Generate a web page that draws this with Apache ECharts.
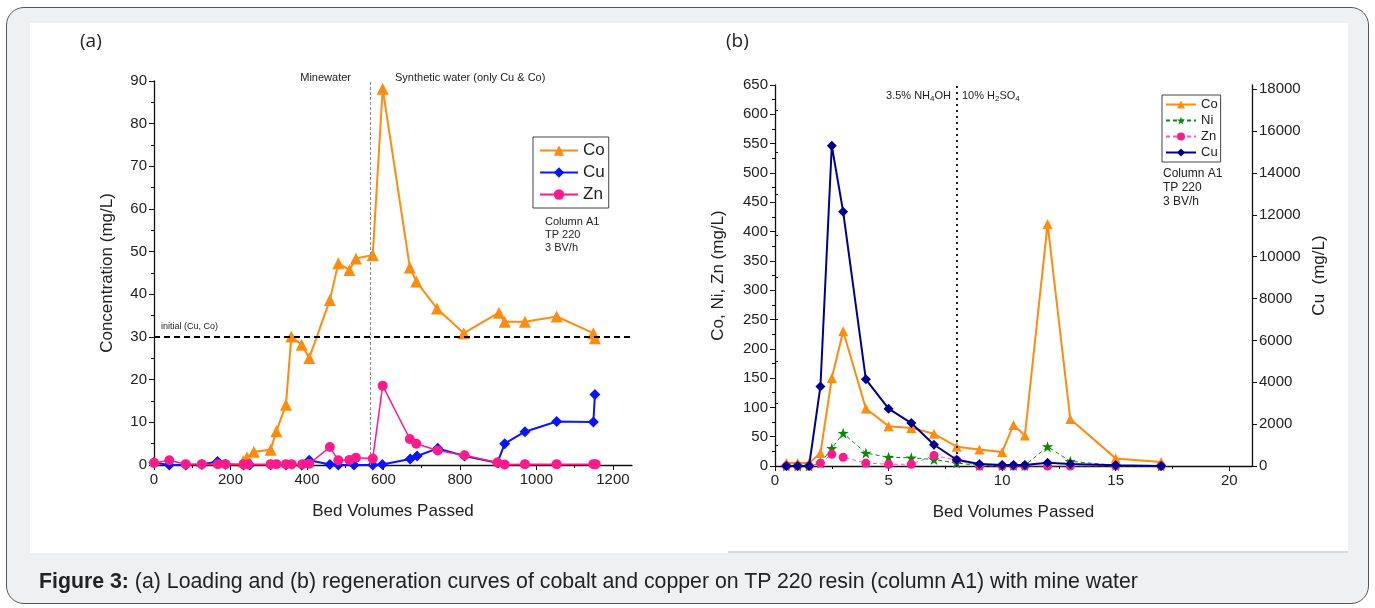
<!DOCTYPE html>
<html>
<head>
<meta charset="utf-8">
<script src="https://cdn.jsdelivr.net/npm/echarts@6/dist/echarts.min.js"></script>
<style>
html, body { margin: 0; padding: 0; width: 1375px; height: 608px; overflow: hidden; background: #fff; }
.frame {
  position: absolute; left: 6px; top: 7px; width: 1363px; height: 597px;
  border: 1.5px solid #555; border-radius: 18px; background: #eff0f1; box-sizing: border-box;
}
.sheet { position: absolute; left: 30px; top: 23px; width: 1318px; height: 530px; background: #fff; }
.rule { position: absolute; left: 728px; top: 551px; width: 620px; height: 2px; background: #d9dadb; }
#chart { position: absolute; left: 0; top: 0; width: 1375px; height: 608px; }
.caption {
  position: absolute; left: 39px; top: 569px; white-space: nowrap;
  font: 21.3px "Liberation Sans", Arial, sans-serif; color: #222;
}
</style>
</head>
<body>
<div class="frame"></div>
<div class="sheet"></div>
<div class="rule"></div>
<div id="chart"></div>
<div class="caption"><b>Figure 3:</b> (a) Loading and (b) regeneration curves of cobalt and copper on TP 220 resin (column A1) with mine water</div>
<script>
// (a) loading curve, x = bed volumes passed
const aCoX = [233, 243, 261, 305, 320, 345, 359, 386, 406, 460, 482, 511, 528, 572, 598, 669, 686, 740, 810, 902, 917, 970, 1053, 1149, 1153]
const aCoY = [0.9, 1.8, 3.1, 3.6, 7.9, 14.1, 30.1, 28.2, 25.1, 38.7, 47.3, 45.7, 48.4, 49.2, 88.2, 46.3, 43.0, 36.7, 30.9, 35.7, 33.6, 33.6, 34.8, 30.9, 29.7]

const aCuX = [0, 40, 83, 125, 166, 187, 234, 250, 305, 345, 386, 406, 460, 482, 523, 572, 597, 670, 688, 742, 812, 898, 917, 970, 1053, 1149, 1153]
const aCuY = [0.6, 0, 0, 0.1, 0.8, 0.2, 0, 0, 0, 0, 0, 1.1, 0.1, 0, 0, 0, 0.1, 1.4, 2.1, 3.9, 2.1, 0.5, 5.0, 7.8, 10.2, 10.1, 16.5]

const aZnX = [0, 40, 83, 125, 167, 187, 234, 246, 305, 320, 345, 360, 388, 406, 460, 482, 511, 528, 572, 598, 669, 686, 742, 812, 898, 917, 970, 1053, 1149, 1155]
const aZnY = [0.5, 1.1, 0.2, 0.2, 0.2, 0.2, 0.2, 0.2, 0.2, 0.2, 0.2, 0.2, 0.2, 0.3, 4.2, 1.1, 1.2, 1.7, 1.5, 18.6, 6.1, 5.0, 3.4, 2.3, 0.6, 0.1, 0.2, 0.2, 0.2, 0.2]

const aInitial = 30
const aSwitchBV = 565
const aXTicks = [0, 200, 400, 600, 800, 1000, 1200]
const aXMinor = [100, 300, 500, 700, 900, 1100]

// (b) regeneration curve
const bX = [0.5, 1, 1.5, 2, 2.5, 3, 4, 5, 6, 7, 8, 9, 10, 10.5, 11, 12, 13, 15, 17]
const bCo = [5, 5, 5, 22, 150, 230, 98, 68, 65, 55, 33, 28, 24, 70, 52, 413, 80, 13, 7]
const bNi = [0, 0, 0, 5, 30, 56, 22, 15, 14, 11, 5, 1, 1, 1, 1, 33, 8, 1, 0]
const bZn = [0, 0, 0, 5, 20, 15, 5, 3, 3, 18, 10, 0, 0, 0, 0, 0, 0, 0, 0]
const bCu = [0, 0, 0, 3800, 15300, 12150, 4140, 2740, 2050, 1015, 300, 100, 50, 50, 50, 150, 100, 30, 0]

const bSwitchBV = 8
const bXTicks = [0, 5, 10, 15, 20]
const bXMinor = [2.5, 7.5, 12.5, 17.5]
const bCuTicks = [0, 2000, 4000, 6000, 8000, 10000, 12000, 14000, 16000, 18000]
const bCuMinor = [1000, 3000, 5000, 7000, 9000, 11000, 13000, 15000, 17000]

const font = '"Liberation Sans", Arial, sans-serif'
const ink = '#222'

function pairs(xs, ys) {
  return xs.map((x, i) => [x, ys[i]])
}

const plain = (v) => String(v)
const axisLine = { show: true, lineStyle: { color: '#111', width: 1.3 } }
const tickLabel = { color: ink, fontSize: 15, fontFamily: font, formatter: plain }
const nameStyle = { color: ink, fontSize: 17, fontFamily: font }

function minorAxis(gridIndex, min, max, values, position) {
  return {
    type: 'value', gridIndex, min, max, position,
    axisLine: { show: false },
    axisLabel: { show: false },
    splitLine: { show: false },
    axisTick: { show: true, customValues: values, length: 3, lineStyle: { color: '#111' } },
  }
}

const chart = echarts.init(document.getElementById('chart'))

chart.setOption({
  animation: false,
  backgroundColor: 'transparent',
  textStyle: { fontFamily: font },
  grid: [
    { left: 154, top: 81, width: 478, height: 384 },
    { left: 775, top: 85, width: 477, height: 381 },
    { left: 154, top: 81, width: 478, height: 384 },
    { left: 775, top: 85, width: 477, height: 381 },
  ],
  xAxis: [
    {
      type: 'value', gridIndex: 0, min: 0, max: 1250,
      axisLine,
      axisTick: { customValues: aXTicks, length: 5, lineStyle: { color: '#111' } },
      axisLabel: { ...tickLabel, customValues: aXTicks, margin: 7 },
      splitLine: { show: false },
      name: 'Bed Volumes Passed', nameLocation: 'middle', nameGap: 38, nameTextStyle: nameStyle,
    },
    {
      type: 'value', gridIndex: 1, min: 0, max: 21,
      axisLine,
      axisTick: { customValues: bXTicks, length: 5, lineStyle: { color: '#111' } },
      axisLabel: { ...tickLabel, customValues: bXTicks, margin: 7 },
      splitLine: { show: false },
      name: 'Bed Volumes Passed', nameLocation: 'middle', nameGap: 38, nameTextStyle: nameStyle,
    },
    minorAxis(2, 0, 1250, aXMinor, 'bottom'),
    minorAxis(3, 0, 21, bXMinor, 'bottom'),
  ],
  yAxis: [
    {
      type: 'value', gridIndex: 0, min: 0, max: 90, interval: 10,
      axisLine,
      axisTick: { show: true, length: 5, lineStyle: { color: '#111' } },
      minorTick: { show: true, splitNumber: 2, length: 3, lineStyle: { color: '#111' } },
      axisLabel: { ...tickLabel, margin: 7 },
      splitLine: { show: false },
      name: 'Concentration (mg/L)', nameLocation: 'middle', nameGap: 38, nameRotate: 90, nameTextStyle: nameStyle,
    },
    {
      type: 'value', gridIndex: 1, min: 0, max: 650, interval: 50,
      axisLine,
      axisTick: { show: true, length: 5, lineStyle: { color: '#111' } },
      minorTick: { show: true, splitNumber: 2, length: 3, lineStyle: { color: '#111' } },
      axisLabel: { ...tickLabel, margin: 7 },
      splitLine: { show: false },
      name: 'Co, Ni, Zn (mg/L)', nameLocation: 'middle', nameGap: 48, nameRotate: 90, nameTextStyle: nameStyle,
    },
    {
      type: 'value', gridIndex: 1, position: 'right', min: 0, max: 18200,
      axisLine,
      axisTick: { show: true, customValues: bCuTicks, length: 5, lineStyle: { color: '#111' } },
      axisLabel: { ...tickLabel, customValues: bCuTicks, margin: 7 },
      splitLine: { show: false },
      name: 'Cu  (mg/L)', nameLocation: 'middle', nameGap: 59, nameRotate: 90, nameTextStyle: nameStyle,
    },
    { type: 'value', gridIndex: 2, min: 0, max: 1, show: false },
    minorAxis(3, 0, 18200, bCuMinor, 'right'),
  ],
  legend: [
    {
      orient: 'vertical', left: 533, top: 137,
      data: ['Co', 'Cu', 'Zn'],
      itemWidth: 38, itemHeight: 13, itemGap: 5,
      padding: [5, 4, 5, 6],
      borderColor: '#444', borderWidth: 1,
      textStyle: { color: ink, fontSize: 17, fontFamily: font },
    },
    {
      orient: 'vertical', left: 1162, top: 95,
      data: ['Co (b)', 'Ni (b)', 'Zn (b)', 'Cu (b)'],
      formatter: (name) => name.replace(' (b)', ''),
      itemWidth: 30, itemHeight: 10, itemGap: 3,
      padding: [3, 3, 3, 3],
      borderColor: '#444', borderWidth: 1,
      textStyle: { color: ink, fontSize: 13, fontFamily: font },
    },
  ],
  series: [
    {
      name: 'Co', type: 'line', xAxisIndex: 0, yAxisIndex: 0,
      data: pairs(aCoX, aCoY),
      symbol: 'triangle', symbolSize: 12, z: 3,
      itemStyle: { color: '#ff8c0f' }, lineStyle: { color: '#ff8c0f', width: 2 },
      markLine: {
        silent: true, symbol: 'none', label: { show: false },
        data: [
          { xAxis: aSwitchBV, lineStyle: { color: '#888', type: [3, 2], width: 1 } },
          { yAxis: aInitial, lineStyle: { color: '#000', type: [6, 4], width: 2 } },
        ],
      },
    },
    {
      name: 'Cu', type: 'line', xAxisIndex: 0, yAxisIndex: 0,
      data: pairs(aCuX, aCuY),
      symbol: 'diamond', symbolSize: 11, z: 4,
      itemStyle: { color: '#0a14ff' }, lineStyle: { color: '#0a14ff', width: 2 },
    },
    {
      name: 'Zn', type: 'line', xAxisIndex: 0, yAxisIndex: 0,
      data: pairs(aZnX, aZnY),
      symbol: 'circle', symbolSize: 10, z: 5,
      itemStyle: { color: '#ff1a8c' }, lineStyle: { color: '#ff1a8c', width: 1.5 },
    },
    {
      name: 'Co (b)', type: 'line', xAxisIndex: 1, yAxisIndex: 1,
      data: pairs(bX, bCo),
      symbol: 'triangle', symbolSize: 10, z: 3,
      itemStyle: { color: '#ff8c0f' }, lineStyle: { color: '#ff8c0f', width: 2 },
      markLine: {
        silent: true, symbol: 'none', label: { show: false },
        data: [{ xAxis: bSwitchBV, lineStyle: { color: '#222', type: [2, 4], width: 2 } }],
      },
    },
    {
      name: 'Ni (b)', type: 'line', xAxisIndex: 1, yAxisIndex: 1,
      data: pairs(bX, bNi),
      symbol: 'path://M0,-10L2.35,-3.24L9.51,-3.09L3.8,1.24L5.88,8.09L0,4L-5.88,8.09L-3.8,1.24L-9.51,-3.09L-2.35,-3.24Z',
      symbolSize: 11, z: 4,
      itemStyle: { color: '#0a8a0a' }, lineStyle: { color: '#0a8a0a', width: 1, type: [4, 3] },
    },
    {
      name: 'Zn (b)', type: 'line', xAxisIndex: 1, yAxisIndex: 1,
      data: pairs(bX, bZn),
      symbol: 'circle', symbolSize: 9, z: 5,
      itemStyle: { color: '#ff1a8c' }, lineStyle: { color: '#ff5aa8', width: 1, type: [4, 3] },
    },
    {
      name: 'Cu (b)', type: 'line', xAxisIndex: 1, yAxisIndex: 2,
      data: pairs(bX, bCu),
      symbol: 'diamond', symbolSize: 10, z: 6,
      itemStyle: { color: '#00008f' }, lineStyle: { color: '#00008f', width: 2 },
    },
  ],
  graphic: [
    { type: 'text', x: 80, y: 42, style: { text: '(a)', fill: ink, font: '19px "Open Sans", sans-serif', verticalAlign: 'middle' } },
    { type: 'text', x: 726, y: 42, style: { text: '(b)', fill: ink, font: '19px "Open Sans", sans-serif', verticalAlign: 'middle' } },
    { type: 'text', x: 351, y: 78, style: { text: 'Minewater', fill: ink, font: '11px ' + font, align: 'right', verticalAlign: 'middle' } },
    { type: 'text', x: 395, y: 78, style: { text: 'Synthetic water (only Cu & Co)', fill: ink, font: '11px ' + font, verticalAlign: 'middle' } },
    { type: 'text', x: 161, y: 327, style: { text: 'initial (Cu, Co)', fill: ink, font: '9px ' + font, verticalAlign: 'middle' } },
    { type: 'text', x: 545, y: 215, style: { text: 'Column A1\nTP 220\n3 BV/h', fill: ink, font: '11px ' + font, lineHeight: 13 } },
    { type: 'text', x: 1163, y: 167, style: { text: 'Column A1\nTP 220\n3 BV/h', fill: ink, font: '12px ' + font, lineHeight: 14 } },
    {
      type: 'text', x: 951, y: 96,
      style: {
        text: '{n|3.5% NH}{s|4}{n|OH}', align: 'right', verticalAlign: 'middle',
        rich: {
          n: { fontSize: 11, fontFamily: font, fill: ink, lineHeight: 14, verticalAlign: 'middle' },
          s: { fontSize: 8, fontFamily: font, fill: ink, lineHeight: 14, verticalAlign: 'bottom', padding: [5, 0, 0, 0] },
        },
      },
    },
    {
      type: 'text', x: 962, y: 96,
      style: {
        text: '{n|10% H}{s|2}{n|SO}{s|4}', verticalAlign: 'middle',
        rich: {
          n: { fontSize: 11, fontFamily: font, fill: ink, lineHeight: 14, verticalAlign: 'middle' },
          s: { fontSize: 8, fontFamily: font, fill: ink, lineHeight: 14, verticalAlign: 'bottom', padding: [5, 0, 0, 0] },
        },
      },
    },
  ],
})
</script>
</body>
</html>
